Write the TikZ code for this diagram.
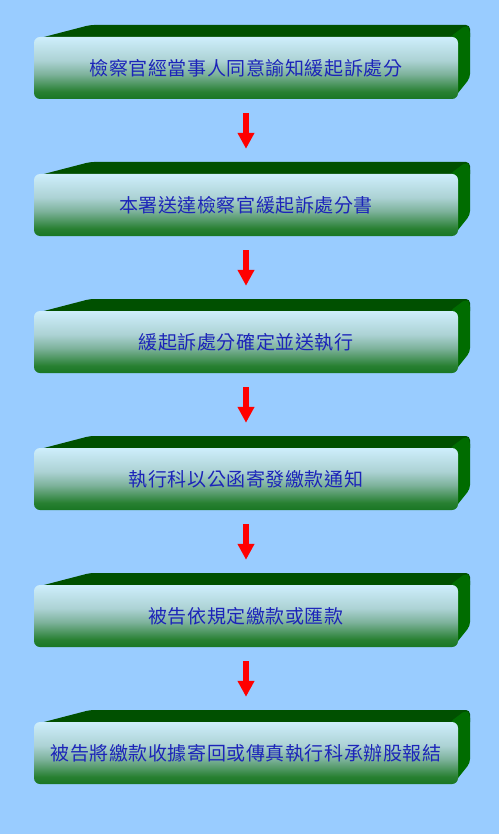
\documentclass[tikz,border=0pt]{standalone}
\usepackage{fontspec}
\newfontfamily\cjk[LetterSpace=3]{Noto Sans CJK TC}
\usepackage{tikz}
\usetikzlibrary{arrows.meta}

\definecolor{bgblue}{RGB}{153,204,255}
\definecolor{topgreen}{RGB}{0,80,0}
\definecolor{sidegreen}{RGB}{0,108,0}
\definecolor{textblue}{RGB}{28,36,185}
\pgfdeclareverticalshading{faceshade}{100bp}{color(0bp)=(rgb,255:red,25;green,118;blue,35);
  color(25bp)=(rgb,255:red,25;green,118;blue,35);
  color(31bp)=(rgb,255:red,40;green,128;blue,50);
  color(45bp)=(rgb,255:red,125;green,178;blue,155);
  color(56bp)=(rgb,255:red,172;green,210;blue,212);
  color(75bp)=(rgb,255:red,206;green,238;blue,252);
  color(100bp)=(rgb,255:red,206;green,238;blue,252)}

\begin{document}
\begin{tikzpicture}[x=1pt,y=-1pt]
\tikzset{face/.style = {shape=rectangle,rounded corners=6pt,shading=faceshade,
  minimum width=424pt,minimum height=62pt,inner sep=0pt,
  font=\cjk\fontsize{19}{19}\selectfont,text=textblue}}
\tikzset{flow/.style = {red,line width=6pt,-{Triangle[width=16pt,length=16pt]},
  shorten <=14pt,shorten >=25pt}}
\fill[bgblue] (0,0) rectangle (499,834);
\useasboundingbox (0,0) rectangle (499,834);
\foreach \y/\t [count=\i] in {37/檢察官經當事人同意諭知緩起訴處分,
  174/本署送達檢察官緩起訴處分書,
  311/緩起訴處分確定並送執行,
  448/執行科以公函寄發繳款通知,
  585/被告依規定繳款或匯款,
  722/被告將繳款收據寄回或傳真執行科承辦股報結} {
  \fill[topgreen,rounded corners=4pt] (40,\y+1) -- (90,\y-12) -- (470,\y-12)
    -- (470,\y+4) -- (452,\y+4) -- cycle;
  \fill[sidegreen,rounded corners=4pt] (450,\y) -- (466,\y-12) -- (470,\y-8)
    -- (470,\y+41) -- (454,\y+61) -- cycle;
  \node[face](b\i) at (246,\y+31) {\raisebox{-2pt}{\t}};
}
\draw[flow] (b1) -- (b2);
\draw[flow] (b2) -- (b3);
\draw[flow] (b3) -- (b4);
\draw[flow] (b4) -- (b5);
\draw[flow] (b5) -- (b6);
\end{tikzpicture}
\end{document}
